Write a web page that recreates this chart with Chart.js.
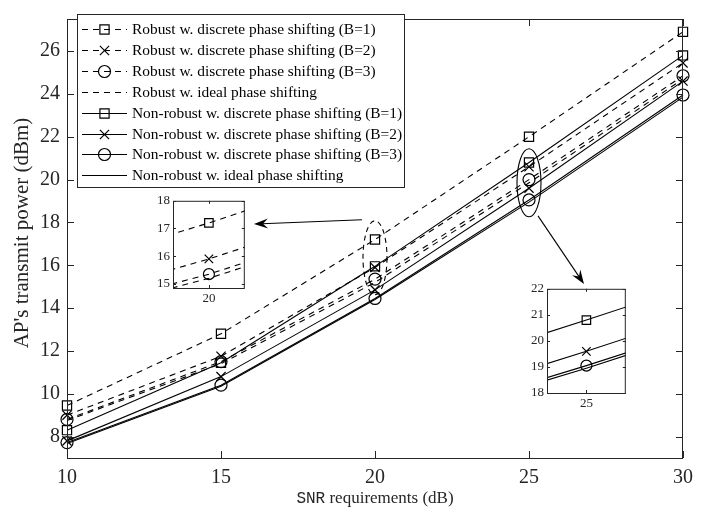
<!DOCTYPE html>
<html>
<head>
<meta charset="utf-8">
<script src="https://cdn.jsdelivr.net/npm/chart.js@4.4.0/dist/chart.umd.min.js"></script>
<style>
  body { margin: 0; background: #fff; }
  #wrap { position: relative; width: 715px; height: 517px; }
  #wrap canvas { position: absolute; }
</style>
</head>
<body>
<div id="wrap">
  <canvas id="main" width="715" height="517" style="left:0;top:0"></canvas>
  <canvas id="inset20" width="104" height="118" style="left:148px;top:190px"></canvas>
  <canvas id="inset25" width="113" height="135" style="left:520px;top:278px"></canvas>
</div>
<script>
const snr = [10, 15, 20, 25, 30];
const xTicks = [10, 15, 20, 25, 30];
const yTicks = [8, 10, 12, 14, 16, 18, 20, 22, 24, 26];
const inset20XTicks = [20];
const inset20YTicks = [15, 16, 17, 18];
const inset25XTicks = [25];
const inset25YTicks = [18, 19, 20, 21, 22];

const seriesLabels = [
    'Robust w. discrete phase shifting (B=1)',
    'Robust w. discrete phase shifting (B=2)',
    'Robust w. discrete phase shifting (B=3)',
    'Robust w. ideal phase shifting',
    'Non-robust w. discrete phase shifting (B=1)',
    'Non-robust w. discrete phase shifting (B=2)',
    'Non-robust w. discrete phase shifting (B=3)',
    'Non-robust w. ideal phase shifting'
];
const robustB1 = [9.45, 12.8, 17.2, 22.0, 26.9];
const robustB2 = [9.0, 11.75, 15.9, 20.6, 25.45];
const robustB3 = [8.8, 11.5, 15.35, 20.0, 24.85];
const robustIdeal = [8.75, 11.4, 15.2, 19.85, 24.7];
const nonRobustB1 = [8.3, 11.45, 15.95, 20.8, 25.8];
const nonRobustB2 = [7.8, 10.8, 14.85, 19.6, 24.6];
const nonRobustB3 = [7.72, 10.4, 14.45, 19.05, 23.95];
const nonRobustIdeal = [7.68, 10.35, 14.4, 18.95, 23.85];

const markers = ['rect', 'crossRot', 'circle', false, 'rect', 'crossRot', 'circle', false];
const allSeries = [robustB1, robustB2, robustB3, robustIdeal, nonRobustB1, nonRobustB2, nonRobustB3, nonRobustIdeal];

const serif = "'Liberation Serif', 'DejaVu Serif', serif";
const ink = '#262626';
const dash = [6, 5];

var makeSets = function (which, radius, clip) {
    return which.map(i => {
        // circles look a bit bigger than squares at the same radius
        const r = markers[i] === 'circle' ? radius - 0.5 : radius;
        return {
            label: seriesLabels[i],
            data: allSeries[i].map((v, j) => ({ x: snr[j], y: v })),
            borderColor: '#000',
            borderWidth: 1.1,
            borderDash: i < 4 ? dash : [],
            pointStyle: markers[i] || 'circle',
            pointRadius: markers[i] ? r : 0,
            pointHoverRadius: markers[i] ? r : 0,
            pointBorderColor: '#000',
            pointBackgroundColor: 'rgba(0,0,0,0)',
            pointBorderWidth: 1.2,
            tension: 0,
            fill: false,
            clip: clip
        };
    });
}

// box round the plot area with inward ticks, like matlab axes
const axesBox = {
    id: 'axesBox',
    beforeDraw(chart) {
        const { ctx, chartArea: a } = chart;
        ctx.save();
        ctx.fillStyle = '#fff';
        ctx.fillRect(a.left, a.top, a.right - a.left, a.bottom - a.top);
        ctx.restore();
    },
    afterDraw(chart, args, opts) {
        const { ctx, chartArea: a, scales } = chart;
        const len = opts.tick || 6;
        ctx.save();
        ctx.strokeStyle = ink;
        ctx.lineWidth = 1;
        ctx.strokeRect(a.left + 0.5, a.top + 0.5, a.right - a.left - 1, a.bottom - a.top);
        ctx.beginPath();
        scales.x.ticks.forEach(t => {
            const px = Math.round(scales.x.getPixelForValue(t.value)) + 0.5;
            ctx.moveTo(px, a.bottom); ctx.lineTo(px, a.bottom - len);
            ctx.moveTo(px, a.top); ctx.lineTo(px, a.top + len);
        });
        scales.y.ticks.forEach(t => {
            const py = Math.round(scales.y.getPixelForValue(t.value)) + 0.5;
            ctx.moveTo(a.left, py); ctx.lineTo(a.left + len, py);
            ctx.moveTo(a.right, py); ctx.lineTo(a.right - len, py);
        });
        ctx.stroke();
        ctx.restore();
    }
};

var drawArrow = function (ctx, x1, y1, x2, y2) {
    const ang = Math.atan2(y2 - y1, x2 - x1);
    const L = 14, W = 5;
    ctx.beginPath();
    ctx.moveTo(x1, y1);
    ctx.lineTo(x2 - Math.cos(ang) * 8, y2 - Math.sin(ang) * 8);
    ctx.stroke();
    ctx.beginPath();
    ctx.moveTo(x2, y2);
    ctx.lineTo(x2 - L * Math.cos(ang) + W * Math.sin(ang), y2 - L * Math.sin(ang) - W * Math.cos(ang));
    ctx.lineTo(x2 - 9 * Math.cos(ang), y2 - 9 * Math.sin(ang));
    ctx.lineTo(x2 - L * Math.cos(ang) - W * Math.sin(ang), y2 - L * Math.sin(ang) + W * Math.cos(ang));
    ctx.closePath();
    ctx.fill();
}

// legend box, ellipses, arrows and axis titles of the main plot
const extras = {
    id: 'extras',
    afterDraw(chart) {
        const { ctx, scales } = chart;
        const xs = scales.x, ys = scales.y;
        ctx.save();

        // legend
        const lx = 77, ly = 14, lw = 327, lh = 173;
        ctx.fillStyle = '#fff';
        ctx.fillRect(lx, ly, lw, lh);
        ctx.strokeStyle = ink;
        ctx.lineWidth = 1;
        ctx.strokeRect(lx + 0.5, ly + 0.5, lw, lh);
        ctx.font = '15.4px ' + serif;
        ctx.textBaseline = 'middle';
        chart.data.datasets.forEach((ds, i) => {
            const y = Math.round(29 + 20.9 * i) + 0.5;
            ctx.strokeStyle = '#000';
            ctx.lineWidth = ds.borderWidth;
            ctx.setLineDash(ds.borderDash);
            ctx.beginPath();
            ctx.moveTo(82, y); ctx.lineTo(127, y);
            ctx.stroke();
            ctx.setLineDash([]);
            if (ds.pointRadius > 0) {
                ctx.fillStyle = 'rgba(0,0,0,0)';
                ctx.lineWidth = ds.pointBorderWidth;
                Chart.helpers.drawPoint(ctx, { pointStyle: ds.pointStyle, radius: ds.pointRadius, rotation: 0, borderWidth: ds.pointBorderWidth }, 104.5, y);
            }
            ctx.fillStyle = '#000';
            ctx.fillText(ds.label, 132, y);
        });

        // ellipses round the points at 20 and 25 dB
        ctx.strokeStyle = '#000';
        ctx.fillStyle = '#000';
        ctx.lineWidth = 1.1;
        const c1x = xs.getPixelForValue(20), c1y = ys.getPixelForValue(16.35);
        ctx.setLineDash([5, 4]);
        ctx.beginPath();
        ctx.ellipse(c1x, c1y, 12, 37, 0, 0, Math.PI * 2);
        ctx.stroke();
        ctx.setLineDash([]);
        const c2x = xs.getPixelForValue(25), c2y = ys.getPixelForValue(19.85);
        ctx.beginPath();
        ctx.ellipse(c2x, c2y, 12, 34, 0, 0, Math.PI * 2);
        ctx.stroke();

        drawArrow(ctx, c1x - 13, c1y - 38, 254, 224);
        drawArrow(ctx, c2x + 9, c2y + 33, 584, 284);

        // axis titles
        ctx.fillStyle = ink;
        ctx.textBaseline = 'middle';
        const t1 = 'SNR', t2 = ' requirements (dB)';
        ctx.font = '16px "Liberation Mono", monospace';
        const w1 = ctx.measureText(t1).width;
        ctx.font = '17px ' + serif;
        const w2 = ctx.measureText(t2).width;
        const cx = (chart.chartArea.left + chart.chartArea.right) / 2;
        let x0 = cx - (w1 + w2) / 2;
        ctx.textAlign = 'left';
        ctx.font = '16px "Liberation Mono", monospace';
        ctx.fillText(t1, x0, 499);
        ctx.font = '17px ' + serif;
        ctx.fillText(t2, x0 + w1, 499);

        ctx.translate(22, 233);
        ctx.rotate(-Math.PI / 2);
        ctx.textAlign = 'center';
        ctx.font = '21px ' + serif;
        ctx.fillText("AP's transmit power (dBm)", 0, 0);
        ctx.restore();
    }
};

var axisOpts = function (min, max, ticks, size, pad, fit) {
    return {
        type: 'linear',
        min: min,
        max: max,
        grid: { display: false, drawTicks: false },
        border: { display: false },
        afterBuildTicks: s => { s.ticks = ticks.map(v => ({ value: v })); },
        afterFit: fit,
        ticks: {
            color: ink,
            padding: pad,
            font: { family: serif, size: size }
        }
    };
}

var baseOptions = function (pad, scales, tick) {
    return {
        responsive: false,
        animation: false,
        events: [],
        layout: { padding: pad },
        plugins: {
            legend: { display: false },
            tooltip: { enabled: false },
            axesBox: { tick: tick }
        },
        scales: scales
    };
}

new Chart(document.getElementById('main'), {
    type: 'line',
    data: { datasets: makeSets([0, 1, 2, 3, 4, 5, 6, 7], 6.5, false) },
    plugins: [axesBox, extras],
    options: baseOptions({ left: 0, right: 32, top: 7, bottom: 0 }, {
        x: axisOpts(10, 30, xTicks, 20, 8, s => { s.height = 59; }),
        y: axisOpts(7, 27.5, yTicks, 20, 7, s => { s.width = 67; })
    }, 7)
});

new Chart(document.getElementById('inset20'), {
    type: 'line',
    data: { datasets: makeSets([0, 1, 2, 3], 6, undefined) },
    plugins: [axesBox],
    options: baseOptions({ left: 0, right: 5, top: 8, bottom: 0 }, {
        x: axisOpts(19.55, 20.45, inset20XTicks, 13, 3, s => { s.height = 20; }),
        y: axisOpts(14.85, 18, inset20YTicks, 13, 3, s => { s.width = 25; })
    }, 3)
});

new Chart(document.getElementById('inset25'), {
    type: 'line',
    data: { datasets: makeSets([4, 5, 6, 7], 6, undefined) },
    plugins: [axesBox],
    options: baseOptions({ left: 0, right: 5, top: 8, bottom: 0 }, {
        x: axisOpts(24.5, 25.5, inset25XTicks, 13, 3, s => { s.height = 20; }),
        y: axisOpts(18, 22, inset25YTicks, 13, 3, s => { s.width = 27; })
    }, 3)
});
</script>
</body>
</html>
